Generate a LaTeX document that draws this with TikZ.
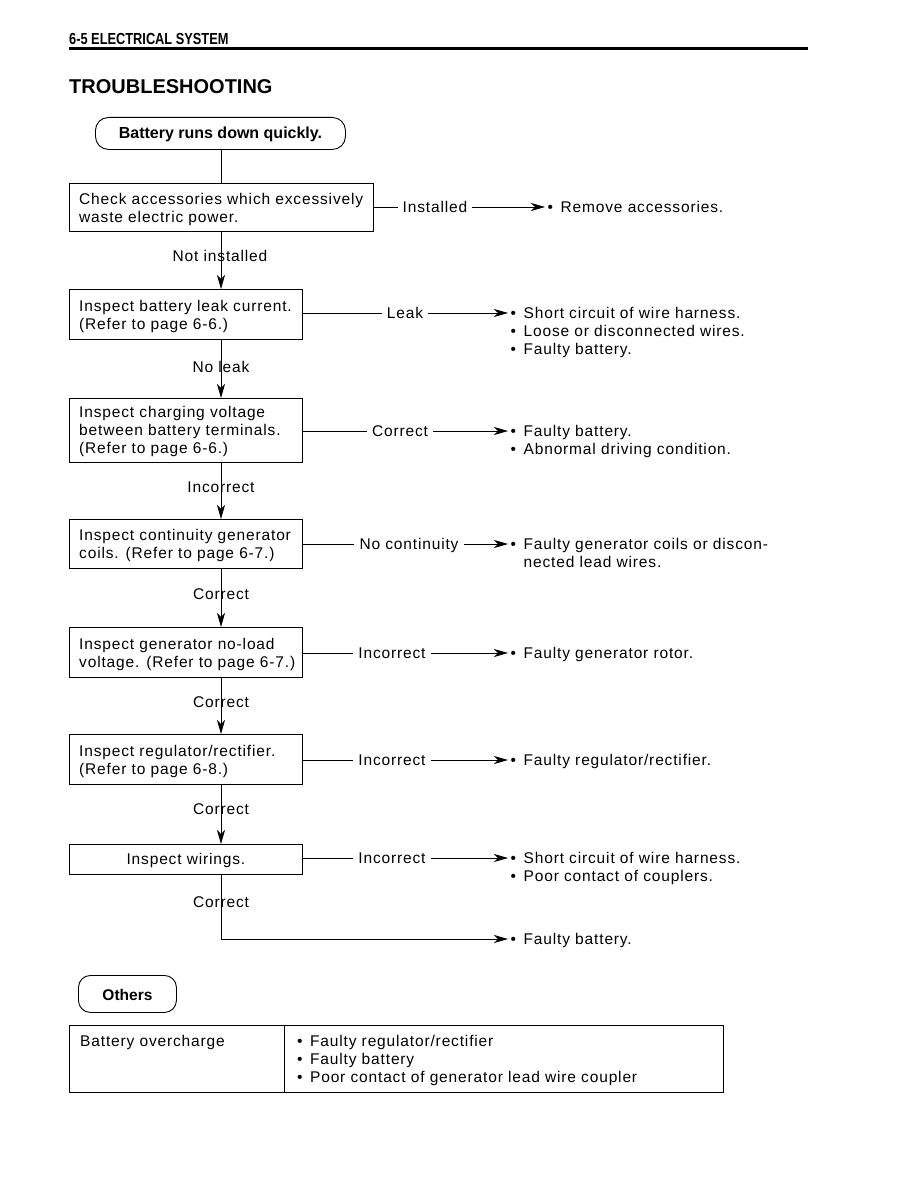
\documentclass[tikz,border=0pt]{standalone}
\usepackage{fontspec}
\setmainfont{Liberation Sans}[LetterSpace=5.5]
\newfontfamily\plainfont{Liberation Sans}
\newfontfamily\condfont[FakeStretch=0.8]{Liberation Sans}
\usetikzlibrary{arrows.meta}
\newcommand\fs{\fontsize{15.5}{18}\selectfont}
\newcommand\bl{•\hspace{7.5pt}}
\begin{document}
\begin{tikzpicture}[x=1pt,y=-1pt,
  box/.style={draw, line width=0.9pt, anchor=north west, inner sep=0},
  intext/.style={font=\fs, align=left, inner sep=0, anchor=west},
  txt/.style={font=\fs, inner sep=0, text height=11pt, text depth=0pt, anchor=west},
  res/.style={txt, inner xsep=2.5pt},
  lab/.style={font=\fs, inner xsep=5pt, inner ysep=0, text height=11pt, text depth=0pt},
  arr/.style={-{Stealth[length=14pt,width=8pt,inset=4pt]}},
  ln/.style={line width=0.8pt},
  pill/.style={draw, line width=0.9pt, rounded corners=13pt, anchor=north west, inner sep=0}
]
\useasboundingbox[fill=white] (0,0) rectangle (918,1188);

% header
\node[anchor=base west, inner sep=0, font=\condfont\bfseries\fontsize{16}{18}\selectfont] (hdr) at (69,45) {6-5 ELECTRICAL SYSTEM};
\coordinate (rl) at (69,49);
\coordinate (rr) at (808,49);
\draw[line width=3pt] (rl) -- (rr);
\node[anchor=base west, inner sep=0, font=\plainfont\bfseries\fontsize{20}{24}\selectfont] (title) at (69,94) {TROUBLESHOOTING};

% start
\node[pill, minimum width=250, minimum height=32] (start) at (95,117) {};
\node[font=\plainfont\bfseries\fontsize{16}{18}\selectfont, inner sep=0] (startt) at ([yshift=-1]start.center) {Battery runs down quickly.};

% boxes
\node[box, minimum width=304, minimum height=48] (b1) at (69,183) {};
\node[intext] (t1) at ([xshift=10,yshift=-2]b1.west) {Check accessories which excessively\\waste electric power.};
\node[box, minimum width=233, minimum height=50] (b2) at (69,289) {};
\node[intext] (t2) at ([xshift=10,yshift=-2]b2.west) {Inspect battery leak current.\\(Refer to page 6-6.)};
\node[box, minimum width=233, minimum height=64] (b3) at (69,398) {};
\node[intext] (t3) at ([xshift=10,yshift=-1]b3.west) {Inspect charging voltage\\between battery terminals.\\(Refer to page 6-6.)};
\node[box, minimum width=233, minimum height=49] (b4) at (69,519) {};
\node[intext] (t4) at ([xshift=10,yshift=-2]b4.west) {Inspect continuity generator\\coils. (Refer to page 6-7.)};
\node[box, minimum width=233, minimum height=50] (b5) at (69,627) {};
\node[intext] (t5) at ([xshift=10,yshift=-2]b5.west) {Inspect generator no-load\\voltage. (Refer to page 6-7.)};
\node[box, minimum width=233, minimum height=50] (b6) at (69,734) {};
\node[intext] (t6) at ([xshift=10,yshift=-2]b6.west) {Inspect regulator/rectifier.\\(Refer to page 6-8.)};
\node[box, minimum width=233, minimum height=30] (b7) at (69,844) {};
\node[font=\fs, inner sep=0, text height=11pt, text depth=0pt] (t7) at ([xshift=0]b7.center) {Inspect wirings.};

% vertical flow
\draw[ln] (start.south -| 221,0) -- (b1.north -| 221,0);
\draw[ln,arr] (b1.south -| 221,0) -- (b2.north -| 221,0);
\draw[ln,arr] (b2.south -| 221,0) -- (b3.north -| 221,0);
\draw[ln,arr] (b3.south -| 221,0) -- (b4.north -| 221,0);
\draw[ln,arr] (b4.south -| 221,0) -- (b5.north -| 221,0);
\draw[ln,arr] (b5.south -| 221,0) -- (b6.north -| 221,0);
\draw[ln,arr] (b6.south -| 221,0) -- (b7.north -| 221,0);
\node[lab] (v1) at (220,256) {Not installed};
\node[lab] (v2) at (221,367) {No leak};
\node[lab] (v3) at (221,487) {Incorrect};
\node[lab] (v4) at (221,594) {Correct};
\node[lab] (v5) at (221,702) {Correct};
\node[lab] (v6) at (221,809) {Correct};
\node[lab] (v7) at (221,902) {Correct};

% results
\node[res] (r1) at (545,207) {\bl Remove accessories.};
\node[res] (r2a) at (508,313) {\bl Short circuit of wire harness.};
\node[res] (r2b) at (508,331) {\bl Loose or disconnected wires.};
\node[res] (r2c) at (508,349) {\bl Faulty battery.};
\node[res] (r3a) at (508,431) {\bl Faulty battery.};
\node[res] (r3b) at (508,449) {\bl Abnormal driving condition.};
\node[res] (r4a) at (508,544) {\bl Faulty generator coils or discon-};
\node[res] (r4b) at (508,562) {\phantom{\bl}nected lead wires.};
\node[res] (r5) at (508,653) {\bl Faulty generator rotor.};
\node[res] (r6) at (508,760) {\bl Faulty regulator/rectifier.};
\node[res] (r7a) at (508,858) {\bl Short circuit of wire harness.};
\node[res] (r7b) at (508,876) {\bl Poor contact of couplers.};
\node[res] (r8) at (508,939) {\bl Faulty battery.};

% horizontal labels
\node[lab] (h1) at (435,207) {Installed};
\node[lab] (h2) at (405,313) {Leak};
\node[lab] (h3) at (400,431) {Correct};
\node[lab] (h4) at (409,544) {No continuity};
\node[lab] (h5) at (392,653) {Incorrect};
\node[lab] (h6) at (392,760) {Incorrect};
\node[lab] (h7) at (392,858) {Incorrect};

\foreach \b/\h/\r in {b1/h1/r1, b2/h2/r2a, b3/h3/r3a, b4/h4/r4a, b5/h5/r5, b6/h6/r6, b7/h7/r7a}{
  \draw[ln] (\h.west -| \b.east) -- (\h.west);
  \draw[ln,arr] (\h.east) -- (\h.east -| \r.west);
}
\draw[ln,arr] (b7.south -| 221,0) |- (r8.west);

% others
\node[pill, minimum width=98, minimum height=37, rounded corners=12pt] (oth) at (78,975) {};
\node[font=\plainfont\bfseries\fs, inner sep=0] (otht) at ([yshift=-1]oth.center) {Others};

\node[draw, line width=1.2pt, anchor=north west, minimum width=654, minimum height=67, inner sep=0] (tab) at (69,1025) {};
\coordinate (dt) at (284,1025);
\coordinate (db) at (284,1092);
\draw[ln] (dt) -- (db);
\node[txt] (c1) at (80,1041) {Battery overcharge};
\node[txt] (c2a) at (297,1041) {\bl Faulty regulator/rectifier};
\node[txt] (c2b) at (297,1059) {\bl Faulty battery};
\node[txt] (c2c) at (297,1077) {\bl Poor contact of generator lead wire coupler};
\end{tikzpicture}
\end{document}
